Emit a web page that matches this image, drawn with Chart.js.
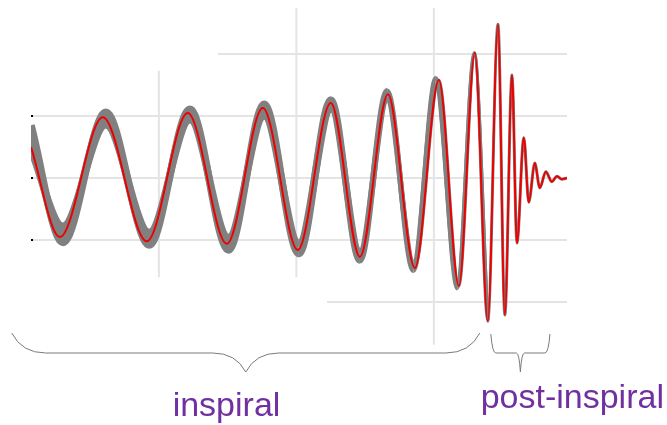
<!DOCTYPE html>
<html>
<head>
<meta charset="utf-8">
<script src="https://cdn.jsdelivr.net/npm/chart.js@4"></script>
<style>
  html, body { margin: 0; padding: 0; background: #ffffff; }
  #wrap { width: 667px; height: 425px; }
  canvas { display: block; }
</style>
</head>
<body>
<div id="wrap"><canvas id="chirp" width="667" height="425"></canvas></div>
<script>
// Time axis in ms, strain in units of 1e-21.
// Waveform model: local extrema of the strain (plus the first and last samples).
const waveTimes = [253.5, 264.0, 279.6, 295.6, 310.5, 324.7, 337.8, 350.5, 362.5, 373.1,
                   383.3, 393.1, 401.8, 409.1, 414.9, 419.6, 423.3, 425.8, 428.4, 430.2,
                   432.7, 434.5, 436.7, 438.5, 440.7, 442.9, 444.7, 446.5, 448.4];
const waveStrain = [0.50, -0.95, 0.98, -1.02, 1.05, -1.06, 1.13, -1.16, 1.21, -1.27,
                    1.35, -1.45, 1.58, -1.74, 2.02, -2.31, 2.48, -2.21, 1.66, -1.05,
                    0.65, -0.39, 0.24, -0.16, 0.10, -0.06, 0.03, -0.02, 0.00];

// Reconstructed-signal band: outer and inner bounding curves at their extrema.
const bandTimes = [253.5, 265.1, 280.7, 296.5, 311.3, 325.3, 338.3, 350.9, 362.6, 373.1,
                   383.0, 392.6, 400.7, 408.5, 414.7, 419.6];
const bandOuter = [0.85, -1.04, 1.06, -1.08, 1.11, -1.16, 1.19, -1.22, 1.26, -1.33,
                   1.40, -1.49, 1.61, -1.78, 2.02, -2.29];
const bandInner = [0.46, -0.78, 0.86, -0.88, 0.94, -0.96, 1.00, -1.05, 1.11, -1.18,
                   1.26, -1.36, 1.49, -1.67, 1.96, -2.29];

// Background grid segments.
const gridStrainLevels = [2, 1, 0, -1, -2];
const gridStrainFrom   = [321.5, 253.5, 253.5, 253.5, 361.1];
const gridStrainTo     = [448.4, 448.4, 448.4, 448.4, 448.4];
const gridTimes        = [300, 350, 400];
const gridTimeTop      = [1.73, 2.74, 2.74];
const gridTimeBottom   = [-1.60, -1.60, -2.69];
const tickLevels       = [1, 0, -1];

// Phases of the signal.
const phaseNames     = ['inspiral', 'post-inspiral'];
const phaseStart     = [246.5, 420.7];
const phaseEnd       = [416.7, 442.2];
const phaseLabelLeft = [305.0, 417.0];

const toPoints = (xs, ys) => xs.map((x, i) => ({ x: x, y: ys[i] }));

const GRAY = 'rgb(128,128,128)';
const RED = 'rgb(236,0,0)';

// Band stroke narrows as the signal approaches merger.
function bandWidth(t) {
  if (t <= 350) return 7.5;
  if (t <= 385) return 7.5 - 2 * (t - 350) / 35;
  if (t <= 415) return 5.5 - 2.5 * (t - 385) / 30;
  return 3;
}

const backdrop = {
  id: 'backdrop',
  beforeDatasetsDraw(chart) {
    const ctx = chart.ctx, xs = chart.scales.x, ys = chart.scales.y;
    ctx.save();
    ctx.strokeStyle = '#e4e4e4';
    ctx.lineWidth = 2;
    gridStrainLevels.forEach((v, i) => {
      const y = ys.getPixelForValue(v);
      ctx.beginPath();
      ctx.moveTo(xs.getPixelForValue(gridStrainFrom[i]), y);
      ctx.lineTo(xs.getPixelForValue(gridStrainTo[i]), y);
      ctx.stroke();
    });
    gridTimes.forEach((t, i) => {
      const x = xs.getPixelForValue(t);
      ctx.beginPath();
      ctx.moveTo(x, ys.getPixelForValue(gridTimeTop[i]));
      ctx.lineTo(x, ys.getPixelForValue(gridTimeBottom[i]));
      ctx.stroke();
    });
    ctx.fillStyle = '#000000';
    tickLevels.forEach(v => {
      const y = ys.getPixelForValue(v);
      ctx.fillRect(chart.chartArea.left, y - 1, 2, 2);
    });
    ctx.restore();
  }
};

function drawBrace(ctx, x1, x2, xc, yTop, yMid, yTip, endW, midW) {
  ctx.beginPath();
  ctx.moveTo(x1, yTop);
  ctx.quadraticCurveTo(x1 + endW * 0.3, yMid, x1 + endW, yMid);
  ctx.lineTo(xc - midW, yMid);
  ctx.quadraticCurveTo(xc - midW * 0.3, yMid, xc, yTip);
  ctx.quadraticCurveTo(xc + midW * 0.3, yMid, xc + midW, yMid);
  ctx.lineTo(x2 - endW, yMid);
  ctx.quadraticCurveTo(x2 - endW * 0.3, yMid, x2, yTop);
  ctx.stroke();
}

const phases = {
  id: 'phases',
  afterDraw(chart) {
    const ctx = chart.ctx, xs = chart.scales.x;
    ctx.save();
    ctx.strokeStyle = '#7a7a7a';
    ctx.lineWidth = 1;
    const endW = [34, 5];
    const midW = [33, 4];
    const top = [333, 334];
    phaseNames.forEach((name, i) => {
      const x1 = xs.getPixelForValue(phaseStart[i]);
      const x2 = xs.getPixelForValue(phaseEnd[i]);
      const xc = (x1 + x2) / 2;
      drawBrace(ctx, x1, x2, xc, top[i], 353, 372, endW[i], midW[i]);
    });
    ctx.fillStyle = '#7030a0';
    ctx.font = '34px "Liberation Sans", Arial, sans-serif';
    ctx.textAlign = 'left';
    ctx.textBaseline = 'alphabetic';
    const baseline = [416, 408];
    phaseNames.forEach((name, i) => {
      ctx.fillText(name, xs.getPixelForValue(phaseLabelLeft[i]), baseline[i]);
    });
    ctx.restore();
  }
};

new Chart(document.getElementById('chirp'), {
  type: 'line',
  data: {
    datasets: [
      {
        label: 'waveform',
        data: toPoints(waveTimes, waveStrain),
        borderColor: RED,
        borderWidth: 2,
        cubicInterpolationMode: 'monotone',
        pointRadius: 0,
        fill: false
      },
      {
        label: 'waveform halo',
        data: toPoints(waveTimes, waveStrain),
        borderColor: GRAY,
        borderWidth: 3,
        cubicInterpolationMode: 'monotone',
        pointRadius: 0,
        fill: false
      },
      {
        label: 'band outer',
        data: toPoints(bandTimes, bandOuter),
        borderColor: GRAY,
        cubicInterpolationMode: 'monotone',
        pointRadius: 0,
        fill: false,
        segment: { borderWidth: c => bandWidth(c.p0.parsed.x) }
      },
      {
        label: 'band inner',
        data: toPoints(bandTimes, bandInner),
        borderColor: GRAY,
        backgroundColor: GRAY,
        cubicInterpolationMode: 'monotone',
        pointRadius: 0,
        fill: 2,
        segment: { borderWidth: c => bandWidth(c.p0.parsed.x) }
      }
    ]
  },
  options: {
    responsive: false,
    animation: false,
    devicePixelRatio: 1,
    layout: { padding: { left: 31, right: 100, top: 4.4, bottom: 73.4 } },
    scales: {
      x: { type: 'linear', min: 253.5, max: 448.4, display: false },
      y: { type: 'linear', min: -2.8, max: 2.8, display: false }
    },
    plugins: {
      legend: { display: false },
      tooltip: { enabled: false }
    },
    events: []
  },
  plugins: [backdrop, phases]
});
</script>
</body>
</html>
